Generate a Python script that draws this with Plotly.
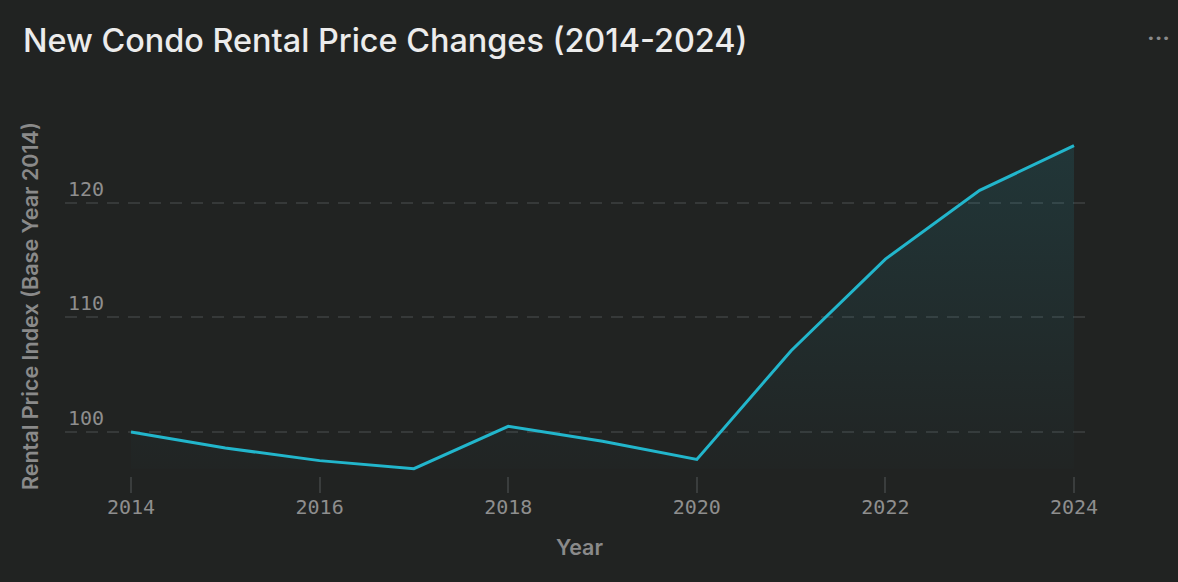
import plotly.graph_objects as go

years = [2014, 2015, 2016, 2017, 2018, 2019, 2020, 2021, 2022, 2023, 2024]
index_values = [100.0, 98.6, 97.5, 96.8, 100.5, 99.2, 97.6, 107.1, 115.1, 121.1, 125.0]
x_tick_vals = [2014, 2016, 2018, 2020, 2022, 2024]
y_tick_vals = [100, 110, 120]

title_text = "New Condo Rental Price Changes (2014-2024)"
x_title = "Year"
y_title = "Rental Price Index (Base Year 2014)"

BG = "#212322"
LINE = "#22b6cc"
GRID = "#363939"
MONO = "DejaVu Sans Mono"
SANS = "Inter"

base = min(index_values)

fig = go.Figure()
fig.add_trace(go.Scatter(
    x=years, y=[base] * len(years), mode="lines",
    line=dict(width=0, color="rgba(0,0,0,0)"), hoverinfo="skip", showlegend=False,
))
fig.add_trace(go.Scatter(
    x=years, y=index_values, mode="lines",
    line=dict(color=LINE, width=3),
    fill="tonexty",
    fillgradient=dict(
        type="vertical",
        colorscale=[[0, "rgba(34,182,204,0.01)"], [1, "rgba(34,182,204,0.13)"]],
    ),
    showlegend=False,
))

fig.update_layout(
    width=1178, height=582,
    paper_bgcolor=BG, plot_bgcolor=BG,
    margin=dict(l=65, r=84, t=110, b=106),
    title=dict(text=title_text, x=23 / 1178, xref="container", xanchor="left",
               font=dict(family=SANS, size=32.4, color="#ececec", weight=500),
               y=0.93, yref="container", yanchor="middle", pad=dict(l=0)),
    showlegend=False,
)

fig.update_xaxes(
    range=[2013.30, 2024.212], tickvals=x_tick_vals,
    showgrid=False, zeroline=False, showline=False,
    ticks="outside", ticklen=16, tickwidth=1.5, tickcolor="#3a3d3d",
    ticklabelstandoff=-3,
    tickfont=dict(family=MONO, size=20, color="#8e8e8e"),
    title=dict(text=x_title, font=dict(family=SANS, size=21.5, color="#8a8a8a", weight=600), standoff=21),
)
fig.update_yaxes(
    range=[96.157, 128.12], tickvals=y_tick_vals,
    showgrid=True, gridcolor=GRID, gridwidth=1.5, griddash="12px,9px",
    zeroline=False, showline=False,
    ticks="", ticklabelposition="inside top",
    tickfont=dict(family=MONO, size=20, color="#8e8e8e"),
)

# Y axis title placed as an annotation so it can sit exactly where the reference has it
fig.add_annotation(
    text=y_title, textangle=-90, xref="paper", yref="paper",
    x=(30 - 65) / 1029, y=(476 - 306) / 366, xanchor="center", yanchor="middle",
    showarrow=False, font=dict(family=SANS, size=21.5, color="#8a8a8a", weight=600),
)

# menu dots in the top-right corner
fig.add_annotation(
    text="•••", xref="paper", yref="paper",
    x=(1158 - 65) / 1029, y=(476 - 38) / 366, xanchor="center", yanchor="middle",
    showarrow=False, font=dict(family="DejaVu Sans", size=13, color="#8a8a8a"),
)

fig.write_html("out.html")
